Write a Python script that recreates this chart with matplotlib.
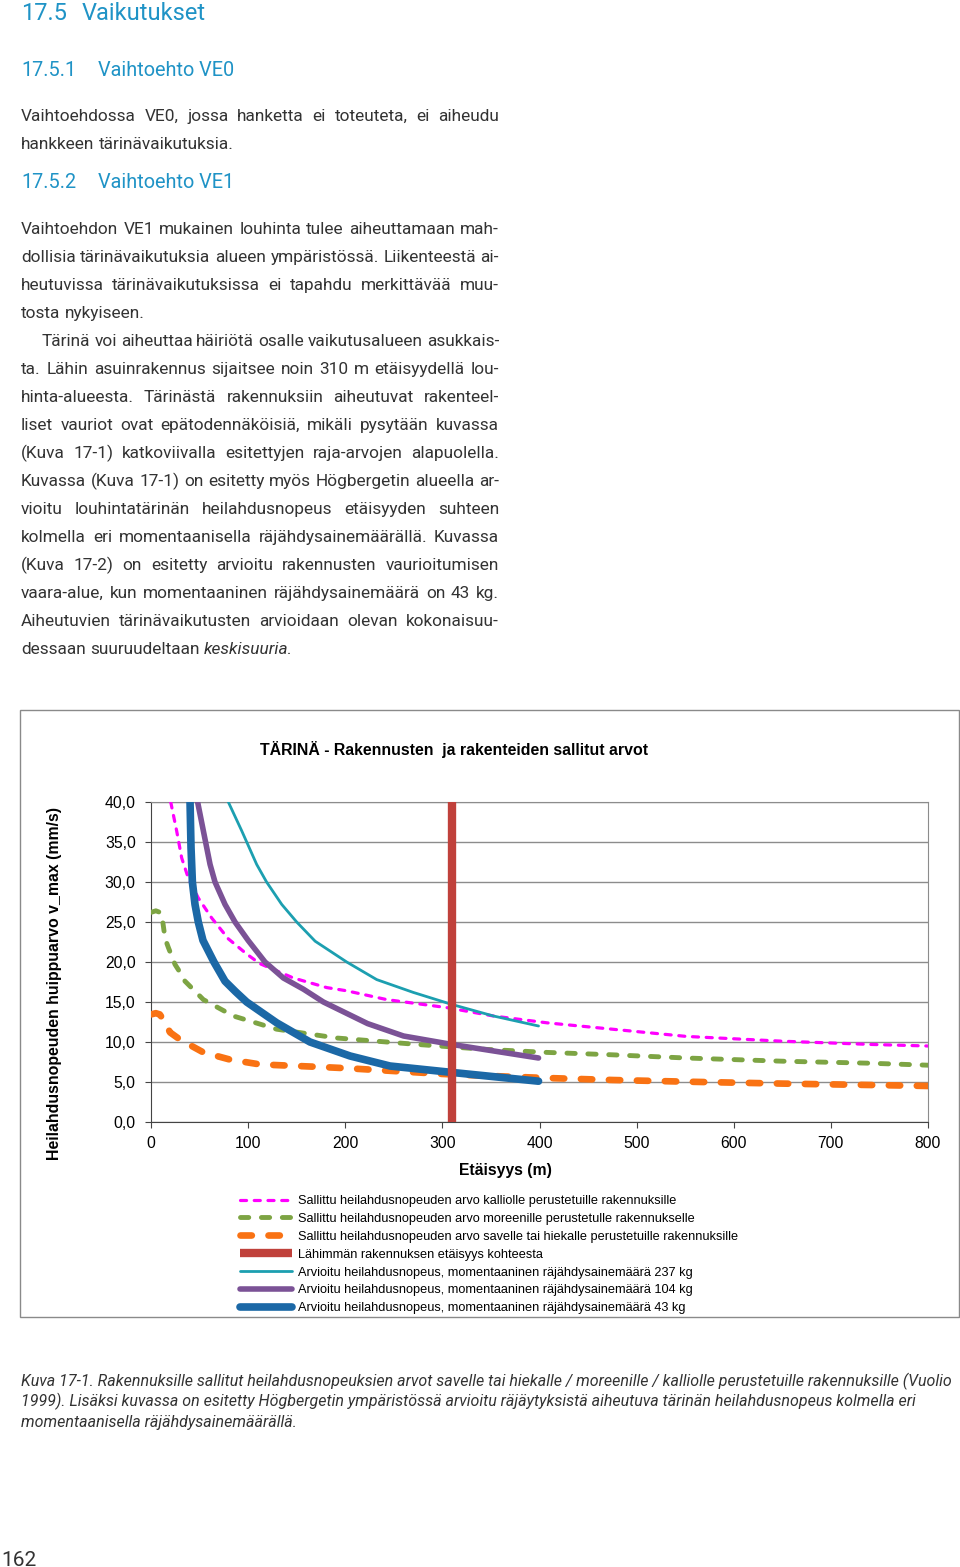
#!/usr/bin/env python3
# -*- coding: utf-8 -*-

import matplotlib
matplotlib.use('Agg')
import matplotlib.pyplot as plt
from matplotlib.patches import Rectangle

# --- values (distance m, velocity mm/s) ---
rock_x = [20.3, 26.4, 31.6, 38.4, 48.7, 62.5, 79.6, 98.5, 112, 146.6, 181, 201.5, 242.7, 304.5,
          352.6, 407.5, 475, 551, 650, 740, 800]
rock_y = [40, 36.4, 33.0, 30.5, 28.0, 25.5, 22.9, 21.0, 19.8, 18.0, 16.8, 16.4, 15.3, 14.3,
          13.25, 12.4, 11.6, 10.7, 10.1, 9.7, 9.5]

moraine_x = [0, 5, 9.3, 11, 13.4, 16.1, 17.9, 24.7, 29.9, 35, 53.9, 84.8, 129.4, 191.2, 273.6,
             342, 407.5, 475, 551, 650, 740, 800]
moraine_y = [26.2, 26.4, 26.2, 26.0, 23.9, 22.4, 21.8, 19.7, 18.7, 17.6, 15.3, 13.25, 11.6, 10.5, 9.7,
             9.1, 8.7, 8.4, 8.0, 7.6, 7.35, 7.1]

clay_x = [0, 5, 9, 12.7, 19.6, 29.9, 53.9, 81.4, 112, 170.6, 205, 246, 301, 350, 407.5, 475,
          551, 650, 784, 800]
clay_y = [13.45, 13.6, 13.45, 12.8, 11.2, 10.3, 8.7, 7.8, 7.2, 6.9, 6.7, 6.4, 6.0, 5.75, 5.5, 5.25,
          5.04, 4.8, 4.54, 4.5]

nearest_x = [310, 310]
nearest_y = [0, 40]

q237_x = [79.6, 93.4, 108.8, 119, 134.6, 150, 169, 201.5, 232.4, 270, 309.6, 352.6, 399]
q237_y = [40, 36.4, 32.2, 30, 27.2, 25, 22.6, 20, 17.8, 16.2, 14.7, 13.25, 12.0]

q104_x = [48, 53.9, 60.8, 65.9, 76.2, 86.5, 100, 117.4, 136.3, 157, 177.5, 223, 260, 309.6, 399]
q104_y = [40, 36.4, 32.2, 30, 27.2, 25, 22.7, 20, 18, 16.6, 15, 12.3, 10.75, 9.7, 8.0]

q43_x = [40.2, 41.2, 42.6, 45.3, 48.7, 53.5, 64.8, 76.2, 87, 98.5, 129.4, 163.7, 205, 246, 309.6, 399]
q43_y = [40, 34.3, 30, 27.2, 25, 22.7, 20, 17.6, 16.3, 15, 12.4, 10, 8.25, 7.0, 6.2, 5.1]

series_labels = [
    'Sallittu heilahdusnopeuden arvo kalliolle perustetuille rakennuksille',
    'Sallittu heilahdusnopeuden arvo moreenille perustetulle rakennukselle',
    'Sallittu heilahdusnopeuden arvo savelle tai hiekalle perustetuille rakennuksille',
    'Lähimmän rakennuksen etäisyys kohteesta',
    'Arvioitu heilahdusnopeus, momentaaninen räjähdysainemäärä 237 kg',
    'Arvioitu heilahdusnopeus, momentaaninen räjähdysainemäärä 104 kg',
    'Arvioitu heilahdusnopeus, momentaaninen räjähdysainemäärä 43 kg',
]
y_ticks = [0, 5, 10, 15, 20, 25, 30, 35, 40]
y_tick_labels = ['0,0', '5,0', '10,0', '15,0', '20,0', '25,0', '30,0', '35,0', '40,0']
x_ticks = [0, 100, 200, 300, 400, 500, 600, 700, 800]

# --- page text ---
para1 = [
    'Vaihtoehdossa VE0, jossa hanketta ei toteuteta, ei aiheudu',
    'hankkeen tärinävaikutuksia.',
]
para2 = [
    'Vaihtoehdon VE1 mukainen louhinta tulee aiheuttamaan mah-',
    'dollisia tärinävaikutuksia alueen ympäristössä. Liikenteestä ai-',
    'heutuvissa tärinävaikutuksissa ei tapahdu merkittävää muu-',
    'tosta nykyiseen.',
]
para3 = [
    'Tärinä voi aiheuttaa häiriötä osalle vaikutusalueen asukkais-',
    'ta. Lähin asuinrakennus sijaitsee noin 310 m etäisyydellä lou-',
    'hinta-alueesta. Tärinästä rakennuksiin aiheutuvat rakenteel-',
    'liset vauriot ovat epätodennäköisiä, mikäli pysytään kuvassa',
    '(Kuva 17-1) katkoviivalla esitettyjen raja-arvojen alapuolella.',
    'Kuvassa (Kuva 17-1) on esitetty myös Högbergetin alueella ar-',
    'vioitu louhintatärinän heilahdusnopeus etäisyyden suhteen',
    'kolmella eri momentaanisella räjähdysainemäärällä. Kuvassa',
    '(Kuva 17-2) on esitetty arvioitu rakennusten vaurioitumisen',
    'vaara-alue, kun momentaaninen räjähdysainemäärä on 43 kg.',
    'Aiheutuvien tärinävaikutusten arvioidaan olevan kokonaisuu-',
    'dessaan suuruudeltaan *keskisuuria.',
]
caption = [
    'Kuva 17-1. Rakennuksille sallitut heilahdusnopeuksien arvot savelle tai hiekalle / moreenille / kalliolle perustetuille rakennuksille (Vuolio',
    '1999). Lisäksi kuvassa on esitetty Högbergetin ympäristössä arvioitu räjäytyksistä aiheutuva tärinän heilahdusnopeus kolmella eri',
    'momentaanisella räjähdysainemäärällä.',
]

W, H = 960, 1567
BLUE = '#1f93c6'
TEXT = '#333333'
BODY_FONT = 'Roboto'
BODY_WEIGHT = 'normal'
CHART_FONT = 'Liberation Sans'

fig = plt.figure(figsize=(W / 100, H / 100), dpi=100)
renderer = fig.canvas.get_renderer()


def fx(px):
    return px / W


def fy(py):
    return 1 - py / H


def width_of(s, **kw):
    t = fig.text(0, 0, s, **kw)
    w = t.get_window_extent(renderer).width
    t.remove()
    return w


def place_line(line, x0, x1, base, size, justify, style='normal'):
    """Draw one text line word by word, optionally justified to x1"""
    kw = dict(fontsize=size, family=BODY_FONT, weight=BODY_WEIGHT, color=TEXT, va='baseline')
    words = line.split(' ')
    objs, widths = [], []
    for w in words:
        st = style
        if w.startswith('*'):
            w, st = w[1:], 'italic'
        t = fig.text(0, fy(base), w, style=st, **kw)
        objs.append(t)
        widths.append(t.get_window_extent(renderer).width)
    gap = width_of('n n', **kw) - width_of('nn', **kw)
    if justify and len(objs) > 1:
        gap = (x1 - x0 - sum(widths)) / (len(objs) - 1)
    x = x0
    for t, w in zip(objs, widths):
        t.set_x(fx(x))
        x += w + gap


# headings
fig.text(fx(21), fy(20), '17.5', fontsize=17, family=BODY_FONT, color=BLUE, va='baseline')
fig.text(fx(82), fy(20), 'Vaikutukset', fontsize=17, family=BODY_FONT, color=BLUE, va='baseline')
for base, num, name in [(76, '17.5.1', 'Vaihtoehto VE0'), (188, '17.5.2', 'Vaihtoehto VE1')]:
    fig.text(fx(21), fy(base), num, fontsize=14.3, family=BODY_FONT, color=BLUE, va='baseline')
    fig.text(fx(98), fy(base), name, fontsize=14.3, family=BODY_FONT, color=BLUE, va='baseline')

# body text: size fitted so an unjustified line has its reference width
body_size = 12 * 213 / width_of('hankkeen tärinävaikutuksia.', fontsize=12,
                                family=BODY_FONT, weight=BODY_WEIGHT)
step = 28.0
for i, line in enumerate(para1):
    place_line(line, 21, 499, 121 + i * step, body_size, i < len(para1) - 1)
for i, line in enumerate(para2):
    place_line(line, 21, 499, 234 + i * step, body_size, i < len(para2) - 1)
for i, line in enumerate(para3):
    x0 = 42 if i == 0 else 21
    place_line(line, x0, 499, 346 + i * step, body_size, i < len(para3) - 1)

# caption
cap_size = 12 * 893 / width_of(caption[1], fontsize=12, family=BODY_FONT,
                               weight=BODY_WEIGHT, style='italic')
for i, line in enumerate(caption):
    fig.text(fx(21), fy(1386 + i * 20.5), line, fontsize=cap_size, family=BODY_FONT,
             weight=BODY_WEIGHT, style='italic', color=TEXT, va='baseline')

fig.text(fx(1), fy(1566), '162', fontsize=15, family=BODY_FONT,
         color=TEXT, va='baseline')

# chart frame
fig.patches.append(Rectangle((fx(20), fy(1317)), fx(959) - fx(20), (1317 - 710) / H,
                             transform=fig.transFigure, fill=False,
                             edgecolor='#8a8a8a', linewidth=1))

fig.text(fx(454), fy(749), 'TÄRINÄ - Rakennusten  ja rakenteiden sallitut arvot',
         fontsize=11.4, family=CHART_FONT, weight='bold', ha='center', va='center')
fig.text(fx(55), fy(983), 'Heilahdusnopeuden huippuarvo v_max (mm/s)', rotation=90,
         fontsize=11.4, family=CHART_FONT, weight='bold', ha='center', va='center')
fig.text(fx(505), fy(1171), 'Etäisyys (m)', fontsize=11.3, family=CHART_FONT,
         weight='bold', ha='center', va='center')

ax = fig.add_axes([fx(151), fy(1122), fx(928) - fx(151), (1122 - 802) / H])
ax.set_xlim(0, 800)
ax.set_ylim(0, 40)

ax.plot(rock_x, rock_y, color='#ff00ff', lw=2.3, dashes=(1.9, 2.4),
        dash_capstyle='round', label=series_labels[0], zorder=3)
ax.plot(moraine_x, moraine_y, color='#7da443', lw=3.5, dashes=(1.7, 2.6),
        dash_capstyle='round', label=series_labels[1], zorder=3)
ax.plot(clay_x, clay_y, color='#f97213', lw=4.8, dashes=(1.7, 2.5),
        dash_capstyle='round', label=series_labels[2], zorder=3)
ax.plot(nearest_x, nearest_y, color='#c0413b', lw=6, solid_capstyle='butt',
        label=series_labels[3], zorder=6)
ax.plot(q237_x, q237_y, color='#1c9fb0', lw=2, label=series_labels[4],
        solid_capstyle='round', solid_joinstyle='round', zorder=4)
ax.plot(q104_x, q104_y, color='#7b5296', lw=4, label=series_labels[5],
        solid_capstyle='round', solid_joinstyle='round', zorder=4)
ax.plot(q43_x, q43_y, color='#1b68a6', lw=5.5, label=series_labels[6],
        solid_capstyle='round', solid_joinstyle='round', zorder=5)

ax.set_yticks(y_ticks)
ax.set_yticklabels(y_tick_labels)
ax.set_xticks(x_ticks)
ax.yaxis.grid(True, color='#8c8c8c', lw=1)
ax.set_axisbelow(True)
ax.tick_params(axis='both', direction='out', length=4, color='#444444',
               labelsize=11.3, labelcolor='black')
ax.tick_params(axis='y', pad=7)
ax.tick_params(axis='x', pad=6)
for lab in ax.get_xticklabels() + ax.get_yticklabels():
    lab.set_family(CHART_FONT)
for side in ['left', 'bottom']:
    ax.spines[side].set_color('#444444')
for side in ['top', 'right']:
    ax.spines[side].set_color('#8c8c8c')

leg = ax.legend(loc='upper left', bbox_to_anchor=(fx(240), fy(1195)),
                bbox_transform=fig.transFigure, frameon=False,
                prop={'family': CHART_FONT, 'size': 9.2}, handlelength=4.1,
                handletextpad=0.45, labelspacing=0.46, borderpad=0, borderaxespad=0)

fig.savefig('out.png', dpi=100)
plt.close(fig)
